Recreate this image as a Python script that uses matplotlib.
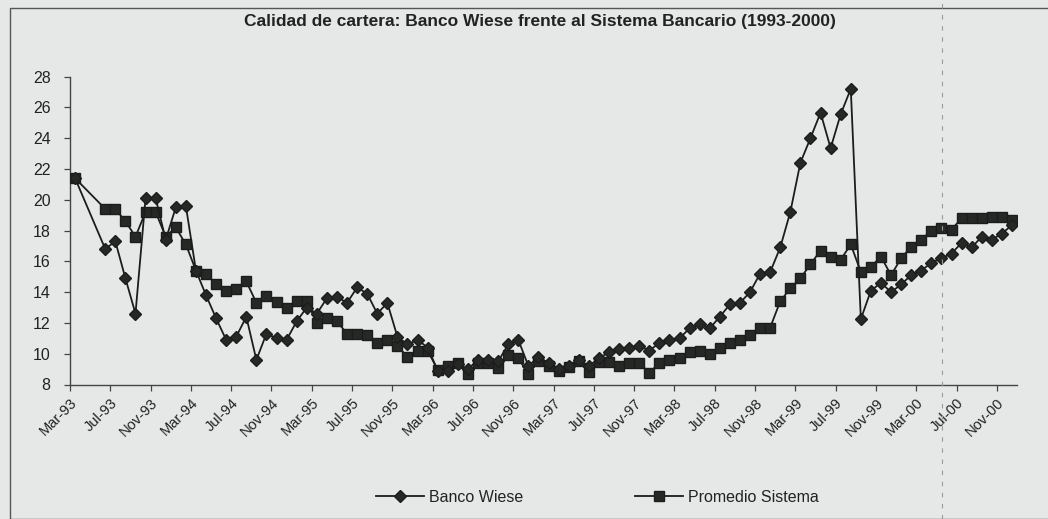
import numpy as np
import matplotlib
matplotlib.use("Agg")
import matplotlib.pyplot as plt
from matplotlib.lines import Line2D
from matplotlib.patches import Rectangle

# --- datos (mensual, Mar-93 .. Dic-00; Abr/May-93 sin dato) ---
meses_label = ['Mar-93', 'Jul-93', 'Nov-93', 'Mar-94', 'Jul-94', 'Nov-94', 'Mar-95', 'Jul-95',
               'Nov-95', 'Mar-96', 'Jul-96', 'Nov-96', 'Mar-97', 'Jul-97', 'Nov-97', 'Mar-98',
               'Jul-98', 'Nov-98', 'Mar-99', 'Jul-99', 'Nov-99', 'Mar-00', 'Jul-00', 'Nov-00']

banco_wiese = [21.4, np.nan, np.nan, 16.8, 17.3, 14.9, 12.6, 20.1, 20.1, 17.4,
               19.5, 19.6, 15.4, 13.8, 12.3, 10.9, 11.1, 12.4, 9.6, 11.3,
               11.0, 10.9, 12.1, 13.0, 12.6, 13.6, 13.7, 13.3, 14.3, 13.9,
               12.6, 13.3, 11.1, 10.6, 10.9, 10.4, 8.9, 8.9, 9.3, 9.0,
               9.6, 9.6, 9.5, 10.6, 10.9, 9.2, 9.8, 9.4, 9.0, 9.2,
               9.6, 9.2, 9.7, 10.1, 10.3, 10.35, 10.5, 10.2, 10.7, 10.9,
               11.0, 11.65, 11.9, 11.65, 12.4, 13.2, 13.3, 14.0, 15.2, 15.3,
               16.9, 19.2, 22.4, 24.0, 25.65, 23.35, 25.55, 27.2, 12.25, 14.1,
               14.6, 14.0, 14.5, 15.1, 15.4, 15.9, 16.2, 16.5, 17.2, 16.9,
               17.6, 17.4, 17.8, 18.35]

promedio_sistema = [21.4, np.nan, np.nan, 19.4, 19.4, 18.6, 17.6, 19.2, 19.2, 17.6,
                    18.2, 17.1, 15.4, 15.2, 14.5, 14.05, 14.2, 14.7, 13.3, 13.75,
                    13.35, 12.95, 13.4, 13.4, 12.0, 12.3, 12.1, 11.3, 11.3, 11.2,
                    10.7, 10.9, 10.5, 9.8, 10.2, 10.2, 8.95, 9.2, 9.4, 8.7,
                    9.4, 9.4, 9.1, 9.9, 9.7, 8.7, 9.5, 9.2, 8.85, 9.15,
                    9.5, 8.8, 9.45, 9.45, 9.2, 9.4, 9.4, 8.75, 9.4, 9.6,
                    9.7, 10.1, 10.2, 10.0, 10.4, 10.7, 10.9, 11.2, 11.65, 11.7,
                    13.4, 14.25, 14.9, 15.8, 16.7, 16.3, 16.1, 17.1, 15.3, 15.65,
                    16.3, 15.1, 16.2, 16.95, 17.4, 18.0, 18.15, 18.05, 18.8, 18.8,
                    18.8, 18.9, 18.9, 18.7]

y_ticks = [8, 10, 12, 14, 16, 18, 20, 22, 24, 26, 28]

BG = '#e6e8e8'
INK = '#1c1c1c'
FONT = ['Liberation Sans Narrow', 'Liberation Sans', 'DejaVu Sans']

plt.rcParams['font.family'] = FONT

fig = plt.figure(figsize=(10.48, 5.19), dpi=100, facecolor=BG)
ax = fig.add_axes([70 / 1048, 134.5 / 519, 947 / 1048, 308 / 519])
ax.set_facecolor(BG)

# marco del grafico (estilo Excel)
fig.add_artist(Rectangle((10 / 1048, 0.0), 1.0, 1 - 8 / 519, transform=fig.transFigure,
                         fill=False, edgecolor='#555555', linewidth=1.0))
# pliegue punteado del escaneo
fig.add_artist(Line2D([942 / 1048, 942 / 1048], [0.0, 1.0], transform=fig.transFigure,
                      color='#9a9a9a', linewidth=0.8, linestyle=(0, (4, 6))))

n = len(banco_wiese)
x = np.arange(n) + 0.5
bw = np.array(banco_wiese)
ps = np.array(promedio_sistema)
ok_bw = ~np.isnan(bw)
ok_ps = ~np.isnan(ps)

ax.plot(x[ok_ps], ps[ok_ps], color=INK, linewidth=1.3, marker='s', markersize=7,
        markerfacecolor='#262826', markeredgecolor=INK, label='Promedio Sistema', zorder=3)
ax.plot(x[ok_bw], bw[ok_bw], color=INK, linewidth=1.3, marker='D', markersize=6.3,
        markerfacecolor='#262826', markeredgecolor=INK, label='Banco Wiese', zorder=4)

ax.set_xlim(0, n)
ax.set_ylim(8, 28)
ax.set_yticks(y_ticks)
ax.set_yticklabels([str(v) for v in y_ticks], fontsize=11.5)
ax.set_xticks(np.arange(0, n, 4))
ax.set_xticklabels(meses_label, rotation=45, ha='right', va='top',
                   rotation_mode='anchor', fontsize=10.5)
ax.tick_params(axis='both', direction='out', length=4, width=0.9, colors='#444444',
               labelcolor='#222222')
ax.tick_params(axis='y', pad=10)
ax.tick_params(axis='x', pad=4)

for side in ['top', 'right']:
    ax.spines[side].set_visible(False)
for side in ['left', 'bottom']:
    ax.spines[side].set_color('#444444')
    ax.spines[side].set_linewidth(1.0)

fig.text(0.515, 1 - 22 / 519, 'Calidad de cartera: Banco Wiese frente al Sistema Bancario (1993-2000)',
         ha='center', va='center', fontsize=12.5, fontweight='bold', color='#222222')

handles, labels = ax.get_legend_handles_labels()
leg = fig.legend(handles[::-1], labels[::-1], loc='center', bbox_to_anchor=(0.57, 1 - 497 / 519),
                 ncol=2, frameon=False, fontsize=11.5, handlelength=3.0, columnspacing=7,
                 handletextpad=0.3)
for t in leg.get_texts():
    t.set_color('#222222')

fig.savefig('out.png', dpi=100, facecolor=BG)
